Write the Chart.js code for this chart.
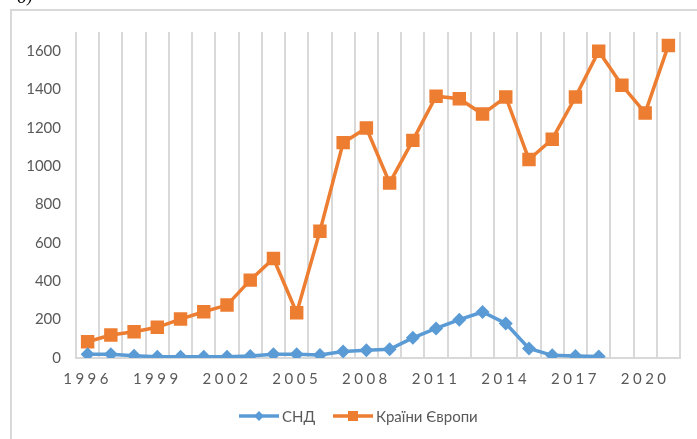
<!DOCTYPE html>
<html><head><meta charset="utf-8">
<script src="https://cdn.jsdelivr.net/npm/chart.js@4.4.1/dist/chart.umd.min.js"></script>
<style>html,body{margin:0;padding:0;background:#fff}#wrap{width:697px;height:439px;position:relative}</style>
</head><body><div id="wrap"><canvas id="c" width="697" height="439"></canvas></div>
<script>
const years = ['1996','1997','1998','1999','2000','2001','2002','2003','2004','2005','2006','2007','2008','2009','2010','2011','2012','2013','2014','2015','2016','2017','2018','2019','2020','2021'];
const shownYears = ['1996','1999','2002','2005','2008','2011','2014','2017','2020'];
const cisValues = [20,20,12,6,6,6,6,10,20,20,16,34,40,45,105,154,200,240,180,50,14,10,8,null,null,null];
const europeValues = [85,120,137,160,203,241,276,406,519,236,661,1123,1199,913,1135,1365,1352,1272,1361,1035,1141,1361,1600,1422,1278,1630];
const yTickValues = [0,200,400,600,800,1000,1200,1400,1600];
const seriesNames = ['СНД','Країни Європи'];
const BLUE = '#5B9BD5', ORANGE = '#ED7D31', GRID = '#d9d9d9', TEXT = '#595959';
const FONT = 'Lato, "Open Sans", sans-serif';

const framePlugin = {
  id: 'frame',
  beforeDraw(chart) {
    const ctx = chart.ctx;
    ctx.save();
    ctx.strokeStyle = GRID; ctx.lineWidth = 2;
    ctx.beginPath();
    ctx.moveTo(11, 439); ctx.lineTo(11, 10); ctx.lineTo(697, 10);
    ctx.stroke();
    ctx.fillStyle = '#000';
    ctx.font = 'italic 16px "DejaVu Serif", serif';
    ctx.textBaseline = 'alphabetic';
    ctx.fillText('б)', 17, 3);
    ctx.restore();
  }
};

const spacingPlugin = {
  id: 'spacing',
  afterLayout(chart) {
    const sc = chart.scales.x;
    if (sc && !sc._wrapped) {
      const orig = sc.drawLabels;
      sc.drawLabels = function(area) {
        const ctx = this.ctx;
        ctx.save();
        ctx.letterSpacing = '3.5px';
        orig.call(this, area);
        ctx.restore();
      };
      sc._wrapped = true;
    }
  }
};

const legendPlugin = {
  id: 'customLegend',
  afterDraw(chart) {
    const ctx = chart.ctx;
    const y = 416;
    const items = [
      {x: 239, name: seriesNames[0], color: BLUE, shape: 'diamond'},
      {x: 333, name: seriesNames[1], color: ORANGE, shape: 'square'}
    ];
    ctx.save();
    ctx.font = '15px ' + FONT;
    ctx.textBaseline = 'middle';
    items.forEach(it => {
      ctx.strokeStyle = it.color; ctx.lineWidth = 3.5;
      ctx.beginPath(); ctx.moveTo(it.x, y); ctx.lineTo(it.x + 40, y); ctx.stroke();
      ctx.fillStyle = it.color;
      const cx = it.x + 20;
      ctx.beginPath();
      if (it.shape === 'diamond') {
        ctx.moveTo(cx, y - 5); ctx.lineTo(cx + 5, y); ctx.lineTo(cx, y + 5); ctx.lineTo(cx - 5, y); ctx.closePath();
      } else {
        ctx.rect(cx - 5, y - 5, 10, 10);
      }
      ctx.fill();
      ctx.fillStyle = TEXT;
      ctx.fillText(it.name, it.x + 43, y + 1);
    });
    ctx.restore();
  }
};

new Chart(document.getElementById('c'), {
  type: 'line',
  data: {
    labels: years,
    datasets: [
      {label: seriesNames[0], data: cisValues, borderColor: BLUE, backgroundColor: BLUE, borderWidth: 3.5,
       pointStyle: 'rectRot', pointRadius: 7, pointHoverRadius: 7, pointBorderWidth: 0, tension: 0, spanGaps: false},
      {label: seriesNames[1], data: europeValues, borderColor: ORANGE, backgroundColor: ORANGE, borderWidth: 3.5,
       pointStyle: 'rect', pointRadius: 9.5, pointHoverRadius: 9.5, pointBorderWidth: 0, tension: 0}
    ]
  },
  options: {
    responsive: false,
    animation: false,
    events: [],
    layout: {padding: {left: 0, right: 17, top: 32, bottom: 41}},
    plugins: {legend: {display: false}, tooltip: {enabled: false}},
    scales: {
      x: {
        offset: true,
        grid: {display: true, offset: true, color: GRID, lineWidth: 2, drawTicks: false},
        border: {display: true, color: GRID, width: 2},
        ticks: {
          autoSkip: false, maxRotation: 0, minRotation: 0, padding: 12,
          color: TEXT, font: {family: FONT, size: 15},
          callback: function(v, i) { const l = years[i]; return shownYears.includes(l) ? l : ''; }
        },
        afterFit(s) { s.height = 40; }
      },
      y: {
        min: 0, max: 1700,
        grid: {display: false, drawTicks: false},
        border: {display: false},
        afterBuildTicks(s) { s.ticks = yTickValues.map(v => ({value: v})); },
        ticks: {padding: 15, color: TEXT, font: {family: FONT, size: 15}, callback: v => String(v)},
        afterFit(s) { s.width = 76; }
      }
    }
  },
  plugins: [framePlugin, spacingPlugin, legendPlugin]
});
</script>
</body></html>
